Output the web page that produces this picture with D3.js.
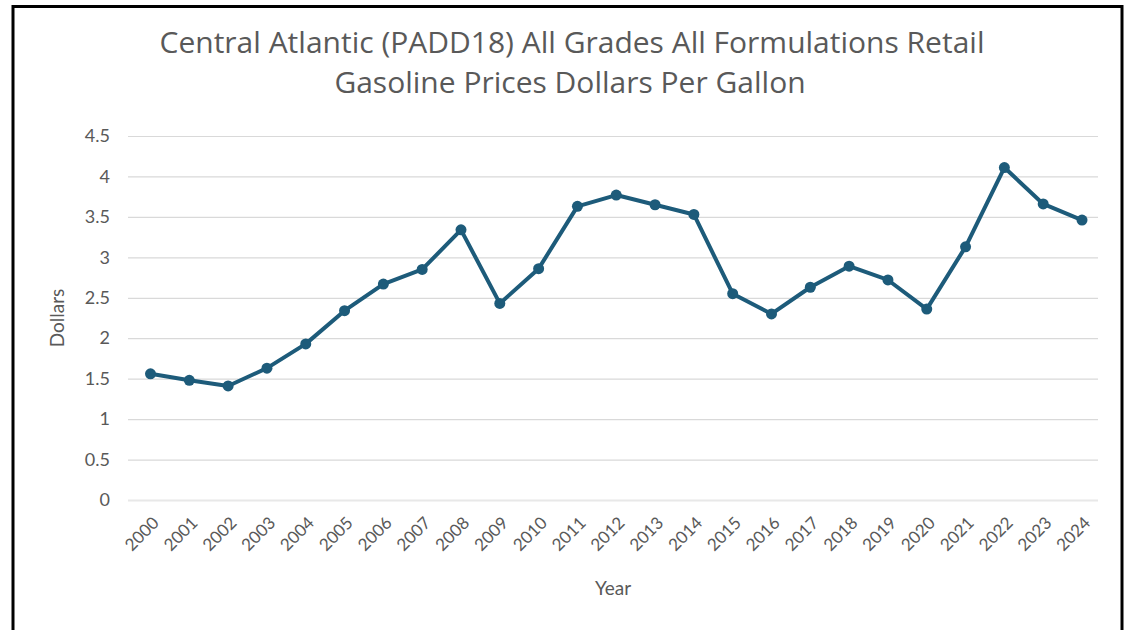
<!DOCTYPE html>
<html>
<head>
<meta charset="utf-8">
<script src="https://cdn.jsdelivr.net/npm/d3@7"></script>
<style>
  html, body { margin: 0; padding: 0; background: #ffffff; }
  svg { display: block; }
</style>
</head>
<body>
<svg id="chart" width="1132" height="630"></svg>
<script>
const titleLines = ["Central Atlantic (PADD18) All Grades All Formulations Retail", "Gasoline Prices Dollars Per Gallon"];
const years = ["2000","2001","2002","2003","2004","2005","2006","2007","2008","2009","2010","2011","2012","2013","2014","2015","2016","2017","2018","2019","2020","2021","2022","2023","2024"];
const prices = [1.56,1.48,1.41,1.63,1.93,2.34,2.67,2.85,3.34,2.43,2.86,3.63,3.77,3.65,3.53,2.55,2.30,2.63,2.89,2.72,2.36,3.13,4.11,3.66,3.46];
const yTicks = [0,0.5,1,1.5,2,2.5,3,3.5,4,4.5];
const yTickLabels = ["0","0.5","1","1.5","2","2.5","3","3.5","4","4.5"];
const xAxisTitle = "Year";
const yAxisTitle = "Dollars";

const svg = d3.select("#chart");
const font = "Lato, 'Open Sans', sans-serif";
const titleFont = "'Open Sans', Lato, sans-serif";
const textColor = "#595959";
const lineColor = "#1d5b7a";

const plot = { left: 128, right: 1098, top: 136, bottom: 500 };

const x = d3.scalePoint().domain(years).range([150.5, 1082]);
const y = d3.scaleLinear().domain([0, 4.5]).range([plot.bottom, plot.top]);

// outer border
svg.append("rect")
  .attr("x", 13).attr("y", 6.5)
  .attr("width", 1109).attr("height", 640)
  .attr("fill", "#ffffff")
  .attr("stroke", "#000000").attr("stroke-width", 3);

// title, font size fitted to the reference line width
const title = svg.append("g");
const titleY = [45, 85];
const titleTarget = 825;
const t0 = title.append("text")
  .attr("x", 572).attr("y", titleY[0])
  .attr("text-anchor", "middle")
  .attr("dominant-baseline", "middle")
  .attr("font-family", titleFont)
  .attr("font-size", 26)
  .attr("fill", textColor)
  .text(titleLines[0]);
const w0 = t0.node().getComputedTextLength();
const titleSize = Math.max(20, Math.min(32, 26 * titleTarget / w0));
t0.attr("font-size", titleSize);
title.append("text")
  .attr("x", 570).attr("y", titleY[1])
  .attr("text-anchor", "middle")
  .attr("dominant-baseline", "middle")
  .attr("font-family", titleFont)
  .attr("font-size", titleSize)
  .attr("fill", textColor)
  .text(titleLines[1]);

// gridlines via axis
const yAxis = d3.axisLeft(y)
  .tickValues(yTicks)
  .tickFormat((d, i) => yTickLabels[i])
  .tickSize(-(plot.right - plot.left))
  .tickPadding(18);
const gy = svg.append("g")
  .attr("transform", `translate(${plot.left},0)`)
  .call(yAxis);
gy.select(".domain").remove();
gy.selectAll(".tick line")
  .attr("stroke", (d) => d === 0 ? "#e8e8e8" : "#d9d9d9")
  .attr("stroke-width", (d) => d === 0 ? 2 : 1.2);
gy.selectAll(".tick text")
  .attr("font-family", font)
  .attr("font-size", 18)
  .attr("fill", textColor);

// x axis labels
const xAxis = d3.axisBottom(x).tickSize(0).tickPadding(0);
const gx = svg.append("g")
  .attr("transform", `translate(0,${plot.bottom})`)
  .call(xAxis);
gx.select(".domain").remove();
gx.selectAll(".tick text")
  .attr("font-family", font)
  .attr("font-size", 17)
  .attr("fill", textColor)
  .attr("text-anchor", "end")
  .attr("dy", null)
  .attr("y", 0)
  .attr("transform", "translate(9,24) rotate(-45)");

// axis titles
svg.append("text")
  .attr("x", (plot.left + plot.right) / 2)
  .attr("y", 590)
  .attr("text-anchor", "middle")
  .attr("dominant-baseline", "middle")
  .attr("font-family", font)
  .attr("font-size", 19)
  .attr("fill", textColor)
  .text(xAxisTitle);

svg.append("text")
  .attr("transform", `translate(59,${(plot.top + plot.bottom) / 2}) rotate(-90)`)
  .attr("text-anchor", "middle")
  .attr("dominant-baseline", "middle")
  .attr("font-family", font)
  .attr("font-size", 19)
  .attr("fill", textColor)
  .text(yAxisTitle);

// line
const data = years.map((yr, i) => ({ year: yr, value: prices[i] }));
const line = d3.line().x(d => x(d.year)).y(d => y(d.value));
svg.append("path")
  .datum(data)
  .attr("d", line)
  .attr("fill", "none")
  .attr("stroke", lineColor)
  .attr("stroke-width", 4)
  .attr("stroke-linejoin", "round");

svg.append("g").selectAll("circle")
  .data(data)
  .join("circle")
  .attr("cx", d => x(d.year))
  .attr("cy", d => y(d.value))
  .attr("r", 5.5)
  .attr("fill", lineColor);
</script>
</body>
</html>
